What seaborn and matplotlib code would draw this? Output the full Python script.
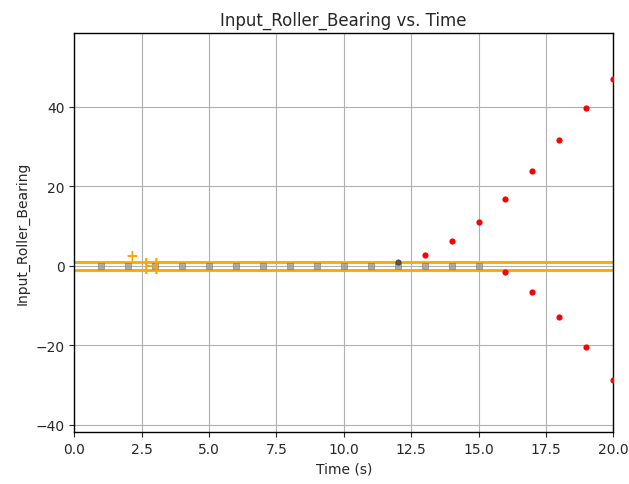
import matplotlib
matplotlib.use("Agg")

import numpy as np
import pandas as pd
import matplotlib.pyplot as plt
import seaborn as sns

# nominal readings (inside tolerance band)
t_ok = [1, 2, 3, 4, 5, 6, 7, 8, 9, 10, 11, 12, 13, 14, 15]
v_ok = [0, 0, 0, 0, 0, 0, 0, 0, 0, 0, 0, 0, 0, 0, 0]

# one reading slightly offset
t_mid = [12]
v_mid = [0.9]

# diverging readings (out of tolerance)
t_bad = [13, 14, 15, 16, 17, 18, 19, 20, 16, 17, 18, 19, 20]
v_bad = [2.8, 6.3, 11.1, 16.9, 23.9, 31.7, 39.7, 47.0, -1.5, -6.5, -12.8, -20.4, -28.7]

upper_limit = 1.0
lower_limit = -1.0

sns.set_style("ticks")
plt.rcParams["font.family"] = ["DejaVu Sans"]

fig, ax = plt.subplots(figsize=(6.29, 4.85), dpi=100)
fig.subplots_adjust(left=0.118, right=0.975, top=0.93, bottom=0.107)

ax.grid(True, color="#b0b0b0", lw=0.8)
ax.set_axisbelow(True)

ax.axhline(upper_limit, color="orange", lw=2, zorder=2)
ax.axhline(lower_limit, color="orange", lw=2, zorder=2)

ok = pd.DataFrame({"t": t_ok, "v": v_ok})
sns.scatterplot(data=ok, x="t", y="v", marker="s", s=14, color="#999999",
                edgecolor="#777777", linewidth=0.5, alpha=0.8, ax=ax, zorder=4)
mid = pd.DataFrame({"t": t_mid, "v": v_mid})
sns.scatterplot(data=mid, x="t", y="v", marker="o", s=14, color="#555555",
                edgecolor="#333333", linewidth=0.5, ax=ax, zorder=4)
bad = pd.DataFrame({"t": t_bad, "v": v_bad})
sns.scatterplot(data=bad, x="t", y="v", marker="o", s=20, color="red",
                edgecolor="red", linewidth=0, ax=ax, zorder=5)

ax.text(1.9, 1.4, "+", color="orange", fontsize=11, fontweight="bold", zorder=6)
ax.text(2.55, -1.8, "H", color="orange", fontsize=16, zorder=6)

ax.set_xlim(0, 20)
ax.set_ylim(-41.8, 58.6)
ax.set_xticks(np.arange(0, 20.1, 2.5))
ax.set_yticks([-40, -20, 0, 20, 40])
ax.tick_params(labelsize=10)
for s in ax.spines.values():
    s.set_color("black")
    s.set_linewidth(1)

ax.set_xlabel("Time (s)", fontsize=10)
ax.set_ylabel("Input_Roller_Bearing", fontsize=10)
ax.set_title("Input_Roller_Bearing vs. Time", fontsize=12)

fig.savefig("out.png", dpi=100)
